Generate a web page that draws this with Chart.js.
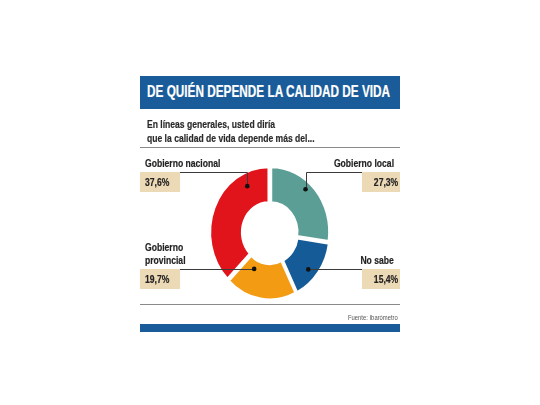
<!DOCTYPE html>
<html>
<head>
<meta charset="utf-8">
<script src="https://cdn.jsdelivr.net/npm/chart.js@4"></script>
<style>
  html, body { margin: 0; padding: 0; background: #fff; }
  #wrap { position: relative; width: 540px; height: 405px; overflow: hidden;
          font-family: "Liberation Sans", Arial, sans-serif; font-weight: bold; color: #222; }
  #wrap canvas { position: absolute; left: 0; top: 0; }
  .abs { position: absolute; white-space: nowrap; }
  .cond { display: inline-block; transform: scaleX(0.78); transform-origin: left center; -webkit-text-stroke: 0.2px currentColor; }
  .right .cond { transform-origin: right center; }
  #banner { left: 140px; top: 76px; width: 260px; height: 33px; background: #1a5c9a; }
  #title { left: 147px; top: 83px; font-size: 16px; color: #fff; line-height: 18px; }
  #subtitle { left: 147px; top: 117px; font-size: 11.5px; line-height: 14px; color: #2a2a2a; }
  #subtitle .cond { transform: scaleX(0.745); }
  .rule { position: absolute; left: 140px; width: 260px; height: 0; border-top: 1px solid #8a8a8a; }
  .lbl { font-size: 11px; line-height: 13px; color: #222; }
  .box { background: #ecd9b5; font-size: 11px; line-height: 20px; height: 20px; padding: 0 4px 0 5px; box-sizing: border-box; }
  #footer { left: 140px; top: 324px; width: 260px; height: 8px; background: #1a5c9a; }
  #source { right: 142px; top: 313px; font-size: 7.5px; font-weight: normal; color: #555; }
  #source .cond { -webkit-text-stroke: 0; }
</style>
</head>
<body>
<div id="wrap">
  <canvas id="donut" width="540" height="405"></canvas>
  <div class="abs" id="banner"></div>
  <div class="abs" id="title"><span class="cond" id="titleText">DE QUIÉN DEPENDE LA CALIDAD DE VIDA</span></div>
  <div class="abs" id="subtitle"><span class="cond">En líneas generales, usted diría<br>que la calidad de vida depende más del...</span></div>
  <div class="rule" style="top:147px"></div>
  <div class="rule" style="top:304px"></div>
  <div class="abs right" id="source"><span class="cond">Fuente: Ibarómetro</span></div>
  <div class="abs" id="footer"></div>
</div>
<script>
// data, clockwise from 12 o'clock
const categories = ['Gobierno local', 'No sabe', 'Gobierno provincial', 'Gobierno nacional'];
const values = [27.3, 15.4, 19.7, 37.6];
const valueLabels = ['27,3%', '15,4%', '19,7%', '37,6%'];
const colors = ['#5b9e95', '#155b98', '#f39b12', '#e1141b'];

// where each callout sits (label block, value box, leader line)
const callouts = [
  { side: 'right', labelTop: 157, boxTop: 172, lineY: 172, dotAt: 0.43, dotR: 0.83 },
  { side: 'right', labelTop: 254, boxTop: 269, lineY: null, dotAt: 0.58, dotR: 0.75 },
  { side: 'left',  labelTop: 241, boxTop: 269, lineY: null, dotAt: 0.74, dotR: 0.30 },
  { side: 'left',  labelTop: 157, boxTop: 172, lineY: 172, dotAt: 0.79, dotR: 0.67 }
];

// the printed donut is a little taller than wide
const squash = { x: 0.94, y: 1.05 };

// squeeze the title to the banner text width
const titleText = document.getElementById('titleText');
titleText.style.transform = 'scaleX(' + (243 / titleText.offsetWidth) + ')';

const wrap = document.getElementById('wrap');
categories.forEach((name, i) => {
  const c = callouts[i];
  const lbl = document.createElement('div');
  lbl.className = 'abs lbl';
  lbl.style.top = c.labelTop + 'px';
  lbl.innerHTML = '<span class="cond">' + (name === 'Gobierno provincial' ? 'Gobierno<br>provincial' : name) + '</span>';
  const box = document.createElement('div');
  box.className = 'abs box';
  box.style.top = c.boxTop + 'px';
  box.innerHTML = '<span class="cond">' + valueLabels[i] + '</span>';
  if (c.side === 'left') {
    lbl.style.left = '145px';
    box.style.left = '140px';
    box.style.width = '40px';
  } else {
    lbl.classList.add('right');
    box.classList.add('right');
    lbl.style.right = '146px';
    lbl.style.textAlign = 'right';
    box.style.right = '140px';
    box.style.width = '38px';
    box.style.paddingRight = '6px';
    box.style.textAlign = 'right';
  }
  wrap.appendChild(lbl);
  wrap.appendChild(box);
});

const leaders = {
  id: 'leaders',
  beforeDatasetsDraw(chart) {
    const ctx = chart.ctx;
    const arc0 = chart.getDatasetMeta(0).data[0];
    ctx.save();
    ctx.translate(arc0.x, arc0.y);
    ctx.scale(squash.x, squash.y);
    ctx.translate(-arc0.x, -arc0.y);
  },
  afterDatasetsDraw(chart) {
    const ctx = chart.ctx;
    ctx.restore();
    const arcs = chart.getDatasetMeta(0).data;
    ctx.save();
    arcs.forEach((arc, i) => {
      const c = callouts[i];
      const p = arc.getProps(['x', 'y', 'startAngle', 'endAngle', 'innerRadius', 'outerRadius'], true);
      const a = p.startAngle + (p.endAngle - p.startAngle) * c.dotAt;
      const r = p.innerRadius + (p.outerRadius - p.innerRadius) * c.dotR;
      const dx = p.x + Math.cos(a) * r * squash.x;
      const dy = p.y + Math.sin(a) * r * squash.y;
      const edge = c.side === 'left' ? 140 : 400;
      ctx.strokeStyle = '#3a3a3a';
      ctx.lineWidth = 1;
      ctx.beginPath();
      if (c.lineY !== null) {
        ctx.moveTo(edge, c.lineY + 0.5);
        ctx.lineTo(Math.round(dx) + 0.5, c.lineY + 0.5);
        ctx.lineTo(Math.round(dx) + 0.5, dy);
      } else {
        ctx.moveTo(edge, Math.round(dy) + 0.5);
        ctx.lineTo(dx, Math.round(dy) + 0.5);
      }
      ctx.stroke();
      ctx.fillStyle = '#111';
      ctx.beginPath();
      ctx.arc(dx, dy, 2.3, 0, Math.PI * 2);
      ctx.fill();
    });
    ctx.restore();
  }
};

new Chart(document.getElementById('donut').getContext('2d'), {
  type: 'doughnut',
  data: {
    labels: categories,
    datasets: [{
      data: values,
      backgroundColor: colors,
      borderColor: '#fff',
      borderWidth: 2.5,
      offset: 6,
      hoverOffset: 6
    }]
  },
  options: {
    responsive: false,
    animation: false,
    radius: 62,
    cutout: '45%',
    layout: { padding: { left: 200, right: 200, top: 163, bottom: 102 } },
    plugins: {
      legend: { display: false },
      tooltip: { enabled: false }
    }
  },
  plugins: [leaders]
});
</script>
</body>
</html>
